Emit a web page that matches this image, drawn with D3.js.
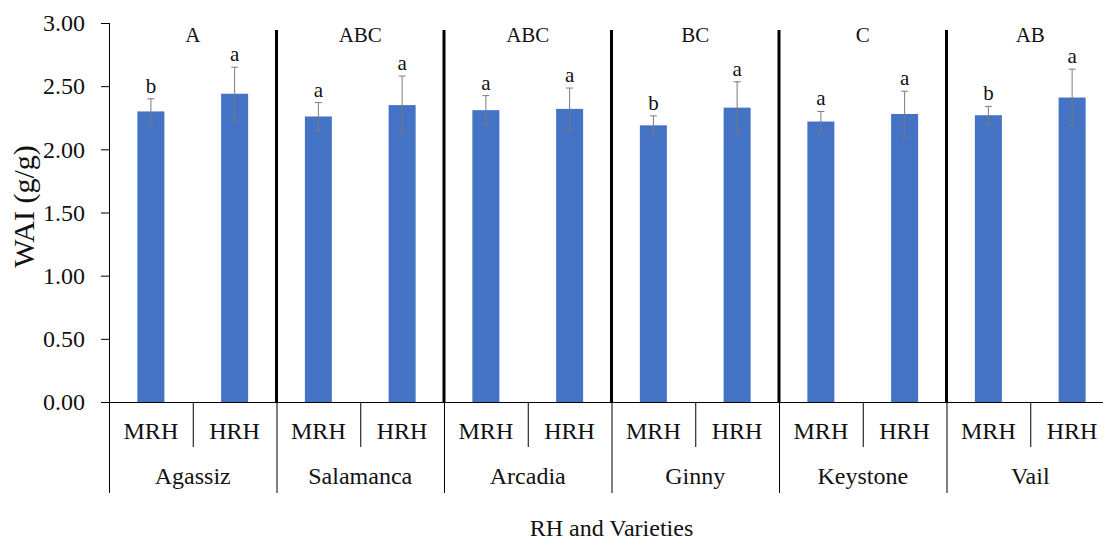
<!DOCTYPE html>
<html>
<head>
<meta charset="utf-8">
<script src="https://cdn.jsdelivr.net/npm/d3@7"></script>
<style>
  body { margin: 0; background: #fff; }
</style>
</head>
<body>
<div id="chart"></div>
<script>
// values
const varieties = ["Agassiz", "Salamanca", "Arcadia", "Ginny", "Keystone", "Vail"];
const rhLevels = ["MRH", "HRH"];
const mrhMeans = [2.30, 2.26, 2.31, 2.19, 2.22, 2.27];
const hrhMeans = [2.44, 2.35, 2.32, 2.33, 2.28, 2.41];
const mrhErr = [0.10, 0.11, 0.115, 0.075, 0.08, 0.07];
const hrhErr = [0.21, 0.23, 0.165, 0.205, 0.18, 0.225];
const mrhLetters = ["b", "a", "a", "b", "a", "b"];
const hrhLetters = ["a", "a", "a", "a", "a", "a"];
const groupLetters = ["A", "ABC", "ABC", "BC", "C", "AB"];
const yTicks = [0, 0.5, 1, 1.5, 2, 2.5, 3];

const width = 1103;
const height = 541;
const marginLeft = 109;
const marginTop = 23;
const plotBottom = 402;
const plotRight = 1114;
const barWidth = 27;
const serif = "'Liberation Serif', 'Times New Roman', Times, 'DejaVu Serif', serif";

const rows = varieties.flatMap((v, i) => [
    {variety: v, rh: "MRH", mean: mrhMeans[i], err: mrhErr[i], letter: mrhLetters[i]},
    {variety: v, rh: "HRH", mean: hrhMeans[i], err: hrhErr[i], letter: hrhLetters[i]}
]);

const svg = d3.select("#chart").append("svg")
    .attr("width", width)
    .attr("height", height)
    .attr("viewBox", [0, 0, width, height])
    .style("font-family", serif);

const x0 = d3.scaleBand()
    .domain(varieties)
    .range([marginLeft, plotRight])
    .padding(0);
const x1 = d3.scaleBand()
    .domain(rhLevels)
    .range([0, x0.bandwidth()])
    .padding(0);
const y = d3.scaleLinear()
    .domain([0, 3])
    .range([plotBottom, marginTop]);

// y axis
svg.append("g")
    .attr("transform", `translate(${marginLeft},0)`)
    .call(d3.axisLeft(y).tickValues(yTicks).tickFormat(d3.format(".2f"))
        .tickSize(8).tickSizeOuter(0).tickPadding(16))
    .attr("font-family", null)
    .attr("font-size", 24)
    .call(g => g.select(".domain").remove())
    .call(g => g.selectAll(".tick line").attr("stroke", "#000"))
    .call(g => g.selectAll(".tick text").attr("fill", "#111"));

svg.append("line")
    .attr("x1", marginLeft + 0.5).attr("x2", marginLeft + 0.5)
    .attr("y1", marginTop).attr("y2", 493)
    .attr("stroke", "#000");

svg.append("text")
    .attr("transform", `translate(34,${(marginTop + plotBottom) / 2 - 6}) rotate(-90)`)
    .attr("text-anchor", "middle")
    .attr("font-size", 30)
    .attr("fill", "#111")
    .text("WAI (g/g)");

// x axis baseline and category dividers
svg.append("line")
    .attr("x1", marginLeft).attr("x2", plotRight)
    .attr("y1", plotBottom + 0.5).attr("y2", plotBottom + 0.5)
    .attr("stroke", "#000");

svg.append("g")
    .selectAll("line")
    .data(varieties)
    .join("line")
        .attr("x1", d => x0(d) + x1("HRH") + 0.5)
        .attr("x2", d => x0(d) + x1("HRH") + 0.5)
        .attr("y1", plotBottom)
        .attr("y2", 447)
        .attr("stroke", "#000");

svg.append("g")
    .selectAll("line")
    .data(varieties.slice(1))
    .join("line")
        .attr("x1", d => x0(d) + 0.5)
        .attr("x2", d => x0(d) + 0.5)
        .attr("y1", plotBottom)
        .attr("y2", 493)
        .attr("stroke", "#000");

// thick separators between varieties
svg.append("g")
    .selectAll("line")
    .data(varieties.slice(1))
    .join("line")
        .attr("x1", d => x0(d))
        .attr("x2", d => x0(d))
        .attr("y1", 30)
        .attr("y2", plotBottom)
        .attr("stroke", "#000")
        .attr("stroke-width", 3);

// bars
const barX = d => x0(d.variety) + x1(d.rh) + (x1.bandwidth() - barWidth) / 2;

svg.append("g")
    .attr("fill", "#4472C4")
    .selectAll("rect")
    .data(rows)
    .join("rect")
        .attr("x", barX)
        .attr("y", d => y(d.mean))
        .attr("width", barWidth)
        .attr("height", d => y(0) - y(d.mean));

// error bars
const errG = svg.append("g")
    .attr("stroke", "#7a7a7a")
    .attr("stroke-width", 1);
const cx = d => barX(d) + barWidth / 2;

errG.selectAll("line.stem")
    .data(rows)
    .join("line")
        .attr("class", "stem")
        .attr("x1", d => cx(d)).attr("x2", d => cx(d))
        .attr("y1", d => y(d.mean + d.err))
        .attr("y2", d => y(d.mean - d.err));

errG.selectAll("line.capTop")
    .data(rows)
    .join("line")
        .attr("class", "capTop")
        .attr("x1", d => cx(d) - 3.5).attr("x2", d => cx(d) + 3.5)
        .attr("y1", d => y(d.mean + d.err)).attr("y2", d => y(d.mean + d.err));

errG.selectAll("line.capBot")
    .data(rows)
    .join("line")
        .attr("class", "capBot")
        .attr("x1", d => cx(d) - 3.5).attr("x2", d => cx(d) + 3.5)
        .attr("y1", d => y(d.mean - d.err)).attr("y2", d => y(d.mean - d.err));

// significance letters
svg.append("g")
    .attr("fill", "#111")
    .selectAll("text")
    .data(rows)
    .join("text")
        .attr("x", d => cx(d))
        .attr("y", d => y(d.mean + d.err) - 6)
        .attr("text-anchor", "middle")
        .attr("font-size", 21)
        .text(d => d.letter);

svg.append("g")
    .attr("fill", "#111")
    .selectAll("text")
    .data(varieties)
    .join("text")
        .attr("x", d => x0(d) + x0.bandwidth() / 2)
        .attr("y", 42)
        .attr("text-anchor", "middle")
        .attr("font-size", 21)
        .text((d, i) => groupLetters[i]);

// category labels
svg.append("g")
    .attr("fill", "#111")
    .selectAll("text")
    .data(rows)
    .join("text")
        .attr("x", d => cx(d))
        .attr("y", 439)
        .attr("text-anchor", "middle")
        .attr("font-size", 24)
        .text(d => d.rh);

svg.append("g")
    .attr("fill", "#111")
    .selectAll("text")
    .data(varieties)
    .join("text")
        .attr("x", d => x0(d) + x0.bandwidth() / 2)
        .attr("y", 484)
        .attr("text-anchor", "middle")
        .attr("font-size", 24)
        .text(d => d);

svg.append("text")
    .attr("x", (marginLeft + plotRight) / 2)
    .attr("y", 536)
    .attr("text-anchor", "middle")
    .attr("font-size", 24)
    .attr("fill", "#111")
    .text("RH and Varieties");
</script>
</body>
</html>
